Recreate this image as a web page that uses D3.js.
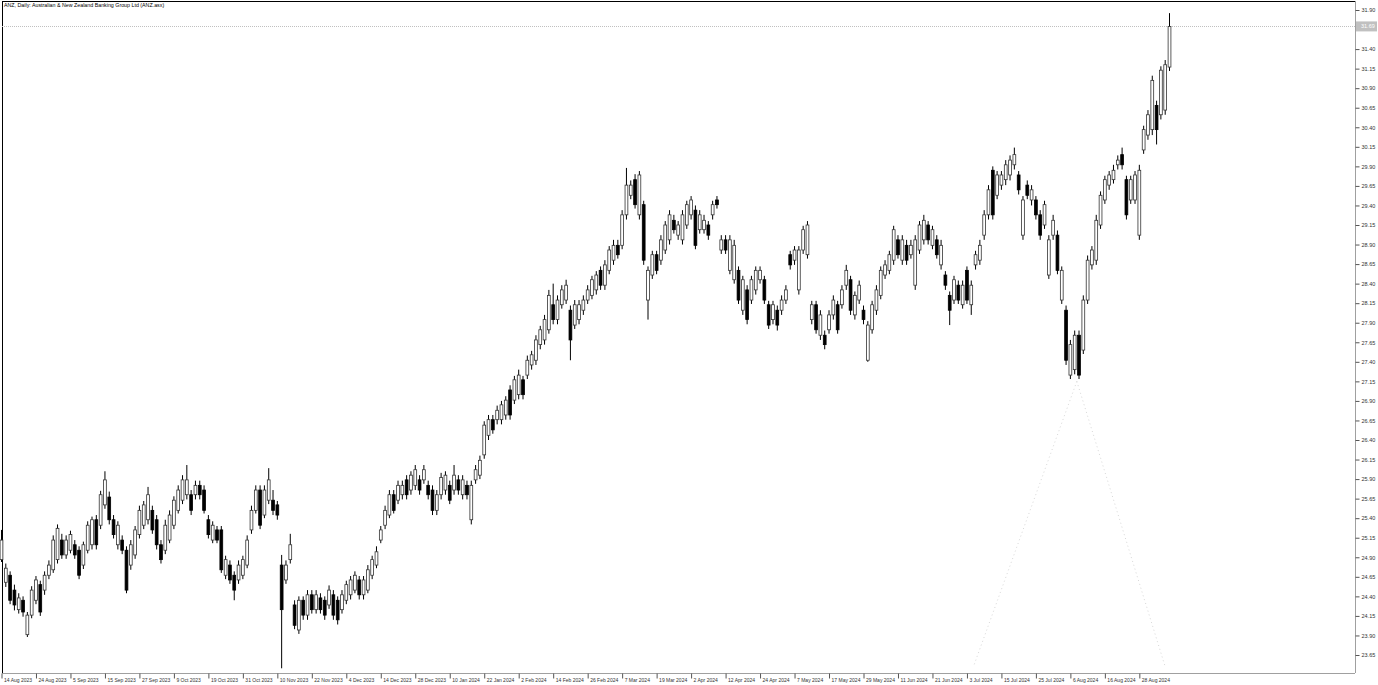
<!DOCTYPE html>
<html><head><meta charset="utf-8">
<script src="https://cdn.jsdelivr.net/npm/d3@7"></script>
<style>html,body{margin:0;padding:0;background:#fff;overflow:hidden}svg{display:block}text{font-family:"Liberation Sans",Arial,sans-serif}</style>
</head><body><div id="chart"></div>
<script>
const title = "ANZ, Daily:  Australian & New Zealand Banking Group Ltd (ANZ.asx)";
const bidPrice = 31.69;
const yTicks = [23.65,23.90,24.15,24.40,24.65,24.90,25.15,25.40,25.65,25.90,26.15,26.40,26.65,26.90,27.15,27.40,27.65,27.90,28.15,28.40,28.65,28.90,29.15,29.40,29.65,29.90,30.15,30.40,30.65,30.90,31.15,31.40,31.90];
const xTickIndex = [0,8,16,24,32,40,48,56,64,72,80,88,96,104,112,120,128,136,144,152,160,168,176,184,192,200,208,216,224,232,240,248,256,264];
const xTickLabels = ["14 Aug 2023","24 Aug 2023","5 Sep 2023","15 Sep 2023","27 Sep 2023","9 Oct 2023","19 Oct 2023","31 Oct 2023","10 Nov 2023","22 Nov 2023","4 Dec 2023","14 Dec 2023","28 Dec 2023","10 Jan 2024","22 Jan 2024","2 Feb 2024","14 Feb 2024","26 Feb 2024","7 Mar 2024","19 Mar 2024","2 Apr 2024","12 Apr 2024","24 Apr 2024","7 May 2024","17 May 2024","29 May 2024","11 Jun 2024","21 Jun 2024","3 Jul 2024","15 Jul 2024","25 Jul 2024","6 Aug 2024","16 Aug 2024","28 Aug 2024"];

const open = [24.87,24.58,24.67,24.48,24.23,24.35,23.91,24.16,24.35,24.55,24.48,24.67,24.74,24.87,25.12,24.93,24.99,25.06,24.99,24.80,24.99,25.06,25.38,25.31,25.57,25.67,25.38,25.06,25.12,24.99,24.80,24.93,25.19,25.31,25.38,25.50,25.38,25.06,24.99,25.12,25.31,25.50,25.63,25.70,25.70,25.70,25.82,25.76,25.38,25.12,25.25,25.25,24.67,24.80,24.67,24.61,24.67,24.80,25.25,25.50,25.76,25.44,25.63,25.63,25.57,24.80,24.61,24.87,24.29,23.97,24.35,24.16,24.42,24.23,24.38,24.35,24.29,24.42,24.35,24.23,24.35,24.42,24.48,24.61,24.42,24.48,24.67,24.80,25.12,25.31,25.44,25.70,25.63,25.70,25.89,25.76,25.82,25.89,25.89,25.82,25.76,25.50,25.70,25.76,25.82,25.76,25.89,25.70,25.82,25.38,25.89,25.95,26.21,26.46,26.66,26.66,26.66,26.72,27.04,26.91,26.98,27.17,27.23,27.36,27.42,27.62,27.68,27.81,28.13,27.94,28.13,28.19,28.06,27.87,27.94,28.06,28.19,28.25,28.32,28.57,28.38,28.57,28.70,28.89,28.89,29.28,29.53,29.73,29.28,29.41,28.19,28.51,28.77,28.70,28.83,28.96,29.21,29.02,28.96,29.15,29.28,29.34,29.09,29.09,29.15,29.28,29.47,28.83,28.96,28.57,28.45,28.57,28.06,28.32,28.19,28.32,28.45,28.45,28.13,27.94,28.06,28.06,28.19,28.77,28.70,28.32,28.83,28.77,27.94,28.13,27.74,27.74,27.81,28.00,28.13,28.13,28.38,28.45,28.00,28.19,28.06,27.42,27.81,28.06,28.25,28.51,28.57,28.70,28.96,28.70,28.89,28.77,28.38,28.83,28.96,29.15,28.89,28.96,28.64,28.51,28.25,28.19,28.38,28.13,28.57,28.13,28.64,28.70,29.02,29.28,29.85,29.53,29.66,29.73,29.79,29.92,29.79,29.02,29.66,29.47,29.47,29.28,29.15,28.51,29.02,29.02,28.19,28.06,27.23,27.30,27.74,27.55,28.19,28.64,28.70,29.15,29.47,29.66,29.73,29.92,30.05,29.73,29.47,29.47,29.02,30.11,30.30,30.37,30.68,30.56,30.62,31.17];
const high = [25.25,24.82,24.72,24.55,24.44,24.40,24.20,24.53,24.66,24.60,24.72,24.86,25.18,25.32,25.20,25.18,25.24,25.12,25.04,25.10,25.36,25.42,25.44,25.75,26.00,25.74,25.44,25.36,25.18,25.04,25.12,25.30,25.56,25.62,25.80,25.56,25.44,25.12,25.38,25.50,25.68,25.82,25.95,26.08,25.76,25.88,25.88,25.82,25.44,25.36,25.30,25.30,24.92,24.86,24.72,24.86,24.92,25.18,25.56,25.82,25.82,25.82,26.04,25.76,25.62,24.93,24.86,25.20,24.35,24.40,24.40,24.48,24.48,24.48,24.44,24.40,24.54,24.48,24.40,24.48,24.60,24.66,24.72,24.66,24.66,24.80,24.92,25.04,25.30,25.56,25.76,25.76,25.88,25.88,25.95,26.00,26.08,25.95,26.08,25.88,25.82,25.76,25.98,26.00,25.88,26.08,25.95,25.95,25.88,25.88,26.08,26.20,26.64,26.72,26.72,26.84,26.90,26.96,27.10,27.22,27.30,27.22,27.48,27.54,27.74,27.86,28.00,28.32,28.40,28.25,28.38,28.45,28.12,28.19,28.19,28.25,28.38,28.50,28.56,28.62,28.70,28.88,28.96,28.96,29.34,29.88,29.72,29.80,29.84,29.46,28.62,28.82,28.82,29.02,29.20,29.34,29.28,29.20,29.34,29.46,29.52,29.40,29.34,29.28,29.20,29.46,29.52,29.02,29.02,29.02,28.96,28.62,28.50,28.38,28.50,28.62,28.62,28.50,28.18,28.18,28.12,28.25,28.38,28.82,28.88,28.88,29.14,29.20,28.18,28.18,28.06,27.80,28.06,28.25,28.18,28.38,28.64,28.50,28.30,28.44,28.12,27.92,28.18,28.38,28.62,28.70,28.82,29.14,29.02,29.02,28.96,28.96,29.02,29.20,29.28,29.20,29.14,29.02,28.96,28.56,28.30,28.50,28.44,28.44,28.62,28.44,28.82,28.96,29.34,29.66,29.90,29.84,29.84,29.98,30.04,30.14,29.84,29.52,29.72,29.66,29.52,29.34,29.46,29.02,29.28,29.08,28.62,28.12,27.68,27.80,27.80,28.25,28.76,28.88,29.28,29.58,29.78,29.84,29.92,30.04,30.14,29.78,29.78,29.84,29.92,30.42,30.62,31.06,30.74,31.18,31.26,31.86];
const low = [24.84,24.52,24.30,24.22,24.18,24.14,23.88,24.12,24.30,24.15,24.42,24.62,24.70,24.82,24.88,24.88,24.95,24.88,24.62,24.75,24.95,25.00,25.00,25.26,25.52,25.32,25.14,25.00,24.94,24.44,24.74,24.88,25.14,25.26,25.32,25.20,25.00,24.82,24.94,25.08,25.26,25.46,25.58,25.64,25.44,25.64,25.64,25.46,25.14,25.08,25.08,24.70,24.62,24.56,24.35,24.56,24.62,24.76,25.20,25.46,25.26,25.40,25.58,25.44,25.38,23.48,24.56,24.82,23.98,23.92,24.10,24.10,24.18,24.18,24.18,24.10,24.24,24.10,24.04,24.18,24.30,24.36,24.44,24.36,24.36,24.44,24.62,24.76,25.08,25.26,25.40,25.46,25.58,25.64,25.64,25.70,25.76,25.70,25.84,25.64,25.44,25.44,25.64,25.70,25.58,25.70,25.70,25.64,25.64,25.32,25.84,25.90,26.16,26.40,26.48,26.60,26.60,26.66,26.66,26.86,26.92,26.92,27.18,27.30,27.36,27.56,27.62,27.76,27.88,27.88,28.08,28.14,27.42,27.82,27.88,28.00,28.14,28.20,28.26,28.32,28.32,28.52,28.64,28.72,28.84,29.22,29.48,29.36,29.22,28.64,27.94,28.46,28.52,28.64,28.78,28.90,29.04,28.96,28.90,29.10,29.22,28.84,29.04,29.04,28.96,29.22,29.36,28.78,28.78,28.52,28.40,28.14,28.00,27.88,28.14,28.26,28.40,28.14,27.82,27.88,27.80,28.00,28.14,28.58,28.64,28.26,28.78,28.72,27.88,27.76,27.68,27.56,27.76,27.94,27.76,28.08,28.32,28.00,27.94,28.14,27.88,27.40,27.76,28.00,28.20,28.46,28.52,28.64,28.72,28.64,28.64,28.72,28.32,28.78,28.90,28.90,28.84,28.72,28.58,28.32,27.87,28.14,28.14,28.08,28.14,28.00,28.58,28.64,28.96,29.22,29.22,29.48,29.60,29.66,29.72,29.86,29.54,28.96,29.48,29.40,29.22,28.96,29.10,28.46,28.96,28.52,28.14,27.36,27.18,27.24,27.18,27.50,28.14,28.58,28.64,29.10,29.42,29.60,29.68,29.86,29.86,29.22,29.42,29.42,28.96,30.06,30.24,30.30,30.18,30.50,30.56,31.12];
const close = [25.12,24.76,24.35,24.29,24.38,24.20,24.16,24.48,24.61,24.20,24.67,24.80,25.12,25.27,24.93,25.12,25.19,24.93,24.67,25.06,25.31,25.38,25.06,25.70,25.89,25.38,25.19,25.31,24.99,24.48,25.06,25.25,25.50,25.57,25.70,25.25,25.06,24.87,25.31,25.44,25.63,25.76,25.89,25.89,25.50,25.82,25.70,25.50,25.19,25.31,25.12,24.74,24.87,24.61,24.48,24.80,24.87,25.12,25.50,25.76,25.31,25.76,25.89,25.50,25.44,24.23,24.80,25.06,24.03,24.35,24.16,24.42,24.23,24.42,24.23,24.16,24.48,24.16,24.10,24.42,24.55,24.61,24.67,24.42,24.61,24.74,24.87,24.97,25.25,25.50,25.70,25.50,25.82,25.82,25.70,25.95,26.02,25.76,26.02,25.70,25.50,25.70,25.92,25.95,25.63,25.95,25.76,25.89,25.70,25.82,26.02,26.14,26.59,26.66,26.53,26.78,26.85,26.91,26.72,27.17,27.23,26.98,27.42,27.49,27.68,27.81,27.94,28.25,27.94,28.19,28.32,28.38,27.68,28.13,28.13,28.19,28.32,28.45,28.51,28.38,28.64,28.83,28.89,28.77,29.28,29.66,29.66,29.41,29.79,28.70,28.57,28.77,28.57,28.96,29.15,29.28,29.09,29.15,29.28,29.41,29.47,28.89,29.28,29.21,29.02,29.41,29.41,28.96,28.83,28.96,28.89,28.19,28.45,27.94,28.45,28.57,28.57,28.19,27.87,28.13,27.87,28.19,28.32,28.64,28.83,28.83,29.09,29.15,28.13,27.81,28.00,27.62,28.00,28.19,27.81,28.32,28.57,28.06,28.25,28.38,27.94,27.87,28.13,28.32,28.57,28.64,28.77,29.09,28.77,28.96,28.70,28.89,28.96,29.15,29.21,28.96,29.09,28.77,28.89,28.38,28.06,28.45,28.19,28.38,28.19,28.38,28.77,28.89,29.28,29.60,29.28,29.79,29.79,29.92,29.98,30.05,29.60,29.47,29.53,29.60,29.28,29.02,29.41,28.96,29.21,28.57,28.57,27.42,27.62,27.74,27.23,28.19,28.70,28.83,29.21,29.53,29.73,29.79,29.85,29.98,29.92,29.28,29.73,29.79,29.85,30.37,30.56,31.00,30.37,31.13,31.20,31.69];

const W = 1378, H = 685;
const plotLeft = 2, plotRight = 1355, plotTop = 1, plotBottom = 673;
const svg = d3.select("#chart").append("svg").attr("width", W).attr("height", H);

const x = d3.scaleLinear().domain([0, 264]).range([1.5, 1.5 + 264 * 4.31]);
const y = d3.scaleLinear().domain([23.65, 31.90]).range([655, 10]);

const data = open.map((o, i) => ({i, o, h: high[i], l: low[i], c: close[i]}));

// frame
svg.append("line").attr("x1", plotLeft).attr("x2", plotRight).attr("y1", plotTop + 0.5).attr("y2", plotTop + 0.5).attr("stroke", "#000");
svg.append("line").attr("x1", plotLeft + 0.5).attr("x2", plotLeft + 0.5).attr("y1", plotTop).attr("y2", plotBottom).attr("stroke", "#000");

// faint drawn object (dotted triangle)
const tri = svg.append("g").attr("stroke", "#d8d8d8").attr("stroke-dasharray", "1,3").attr("fill", "none");
tri.append("line").attr("x1", x(249.5)).attr("y1", y(27.15)).attr("x2", x(225.5)).attr("y2", y(23.50));
tri.append("line").attr("x1", x(249.5)).attr("y1", y(27.15)).attr("x2", x(270)).attr("y2", y(23.50));

// bid line
svg.append("line").attr("x1", plotLeft).attr("x2", plotRight).attr("y1", Math.round(y(bidPrice)) + 0.5).attr("y2", Math.round(y(bidPrice)) + 0.5)
  .attr("stroke", "#c0c0c0").attr("stroke-dasharray", "1,1");

// candles
const g = svg.append("g");
g.selectAll("line.wick").data(data).join("line").attr("class", "wick")
  .attr("x1", d => x(d.i)).attr("x2", d => x(d.i))
  .attr("y1", d => y(d.h)).attr("y2", d => y(d.l))
  .attr("stroke", "#000").attr("stroke-width", 1);
g.selectAll("rect.body").data(data).join("rect").attr("class", "body")
  .attr("x", d => x(d.i) - 1.4).attr("width", 2.8)
  .attr("y", d => y(Math.max(d.o, d.c)))
  .attr("height", d => Math.max(0.8, Math.abs(y(d.o) - y(d.c))))
  .attr("fill", d => d.c >= d.o ? "#fff" : "#000")
  .attr("stroke", d => d.c >= d.o ? "#333" : "#000").attr("stroke-width", 0.8);

// y axis
const yAxis = d3.axisRight(y).tickValues(yTicks).tickSize(4).tickPadding(2).tickFormat(d3.format(".2f"));
const ya = svg.append("g").attr("transform", `translate(${plotRight + 0.5},0)`).call(yAxis);
ya.select(".domain").attr("stroke", "#a0a0a0").attr("d", `M0,${plotTop}V${plotBottom}`);
ya.selectAll(".tick line").attr("stroke", "#555");
ya.selectAll("text").attr("font-size", 5.5).attr("fill", "#333").attr("font-family", "Liberation Sans, Arial, sans-serif");

// price label
svg.append("rect").attr("x", plotRight + 1).attr("y", y(bidPrice) - 5).attr("width", 21).attr("height", 10).attr("fill", "#c0c0c0");
svg.append("text").attr("x", plotRight + 6).attr("y", y(bidPrice) + 2).attr("font-size", 5.5).attr("fill", "#fff").text(bidPrice.toFixed(2));

// x axis
const xAxis = d3.axisBottom(x).tickValues(xTickIndex).tickSize(5).tickFormat((d, k) => xTickLabels[k]);
const xa = svg.append("g").attr("transform", `translate(0,${plotBottom + 0.5})`).call(xAxis);
xa.select(".domain").attr("stroke", "#a0a0a0").attr("d", `M${plotLeft},0H${plotRight}`);
xa.selectAll(".tick line").attr("stroke", "#555");
xa.selectAll("text").attr("font-size", 5).attr("fill", "#333").attr("text-anchor", "start").attr("dx", 2).attr("dy", 0).attr("y", 8)
  .attr("font-family", "Liberation Sans, Arial, sans-serif");

// title
svg.append("text").attr("x", 4).attr("y", 7).attr("font-size", 5.3).attr("fill", "#000").text(title);
</script></body></html>
